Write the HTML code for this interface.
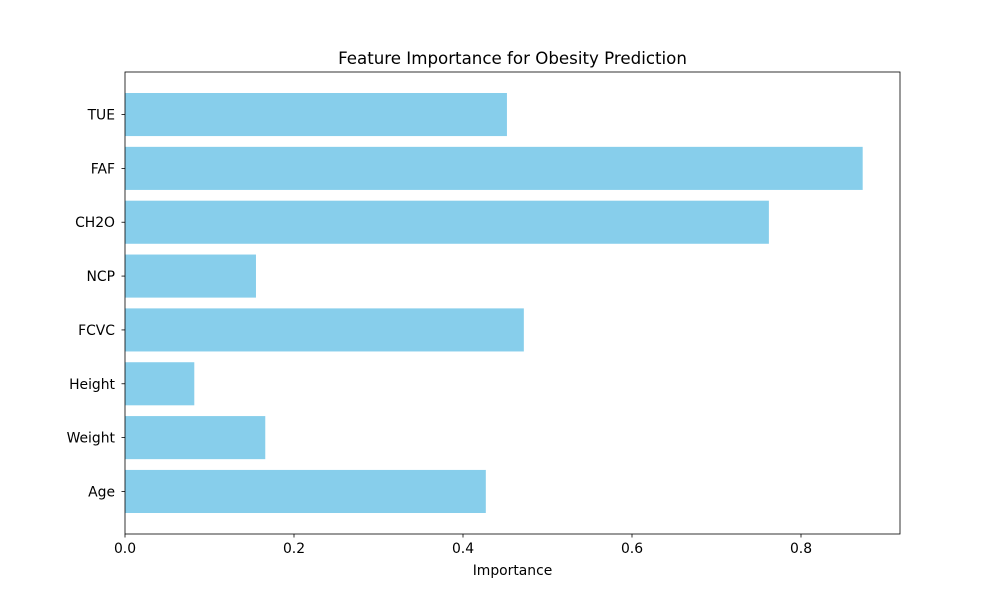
<!DOCTYPE html>
<html><head><meta charset="utf-8"><style>
body{margin:0;background:#fff;font-family:"DejaVu Sans","Liberation Sans",sans-serif;}
text{font-family:"DejaVu Sans","Liberation Sans",sans-serif;}
</style></head><body>
<svg id="chart" width="1000" height="600" xmlns="http://www.w3.org/2000/svg">
<rect width="1000" height="600" fill="#fff"/>
<text x="512.5" y="64" text-anchor="middle" font-size="16.67" fill="#000">Feature Importance for Obesity Prediction</text>
<g id="bars"></g>
<g id="axes"></g>
<text x="512.5" y="575" text-anchor="middle" font-size="13.9" fill="#000">Importance</text>
</svg>
<script>
const categories = ["Age","Weight","Height","FCVC","NCP","CH2O","FAF","TUE"];
const importance = [0.427,0.166,0.082,0.472,0.155,0.762,0.873,0.452];
const xTicks = [0,0.2,0.4,0.6,0.8];
const xTickLabels = ["0.0","0.2","0.4","0.6","0.8"];

const L=125,R=900,T=72,B=534;
const xMin=0,xMax=(R-L)/845;
const yMin=-0.79,yMax=7.79;
const xs=v=>L+(v-xMin)/(xMax-xMin)*(R-L);
const ys=v=>B-(v-yMin)/(yMax-yMin)*(B-T);
const NS="http://www.w3.org/2000/svg";
const bars=document.getElementById('bars'), axes=document.getElementById('axes');
function mk(tag,attrs,parent){const e=document.createElementNS(NS,tag);for(const k in attrs)e.setAttribute(k,attrs[k]);parent.appendChild(e);return e;}

categories.forEach((c,i)=>{
  const y0=ys(i+0.4), y1=ys(i-0.4);
  const r=mk('rect',{x:xs(0),y:y0,width:xs(importance[i])-xs(0),height:y1-y0,fill:'#87ceeb'},bars);
  
  
  const tk=mk('line',{x1:L-3.5,x2:L,y1:ys(i),y2:ys(i),stroke:'#000','stroke-width':0.8},axes);
  
  
  const t=mk('text',{x:L-10,y:ys(i)+5,'text-anchor':'end','font-size':13.9,fill:'#000'},axes);
  t.textContent=c;
  
  
});
xTicks.forEach((v,i)=>{
  const tk=mk('line',{x1:xs(v),x2:xs(v),y1:B,y2:B+3.5,stroke:'#000','stroke-width':0.8},axes);
  
  
  const t=mk('text',{x:xs(v),y:B+19,'text-anchor':'middle','font-size':13.9,fill:'#000'},axes);
  t.textContent=xTickLabels[i];
  
  
});
const f=mk('rect',{x:L,y:T,width:R-L,height:B-T,fill:'none',stroke:'#000','stroke-width':0.8},axes);


</script>
</body></html>
